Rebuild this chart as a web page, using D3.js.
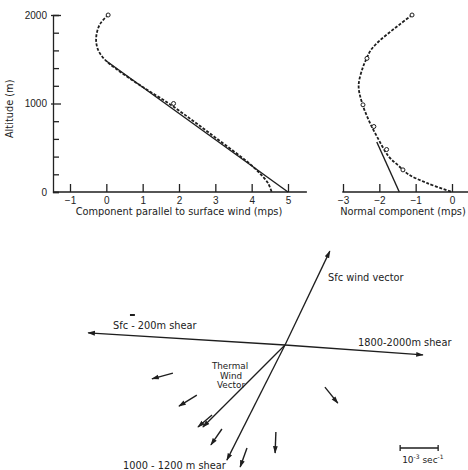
<!DOCTYPE html>
<html>
<head>
<meta charset="utf-8">
<script src="https://cdn.jsdelivr.net/npm/d3@7"></script>
<style>
  body { margin: 0; background: #fff; }
  svg { display: block; font-family: 'DejaVu Sans', sans-serif; }
  .axis text { font-size: 10px; fill: #222; }
  .axis line, .axis path { stroke: #222; stroke-width: 1.3; }
  .lbl { font-size: 9.8px; fill: #222; }
</style>
</head>
<body>
<div id="chart"></div>
<script>
// altitude levels (m) used by both profiles
const altitudes = [2000, 1900, 1800, 1700, 1600, 1500, 1400, 1200, 1000, 800, 600, 400, 300, 200, 100, 0];
// component parallel to surface wind (mps), smoothed profile
const parallelCurve = [0.05, -0.17, -0.26, -0.28, -0.22, -0.05, 0.24, 0.95, 1.72, 2.4, 3.05, 3.7, 4.0, 4.25, 4.45, 4.55];
// normal component (mps), smoothed profile
const normalCurve = [-1.1, -1.42, -1.73, -2.02, -2.24, -2.36, -2.46, -2.57, -2.47, -2.28, -2.03, -1.74, -1.48, -1.2, -0.68, 0];
// straight (theoretical) lines [value, altitude]
const parallelLine = [[0.0, 1480], [5.0, 0]];
const normalLine = [[-1.45, 0], [-2.07, 565]];
// observed points [value, altitude]
const parallelObs = [[0.05, 2000], [1.85, 1000]];
const normalObs = [[-1.1, 2000], [-2.34, 1510], [-2.45, 985], [-2.15, 740], [-1.8, 480], [-1.35, 250]];
// tick labels
const parallelTicks = [-1, 0, 1, 2, 3, 4, 5];
const normalTicks = [-3, -2, -1, 0];
const altTicks = [0, 200, 400, 600, 800, 1000, 1200, 1400, 1600, 1800, 2000];

// hodograph vectors, units of 10^-3 sec^-1 (east, north) from origin
const labelledVectors = [
  { name: 'Sfc wind vector', x: 1.18, y: 2.47 },
  { name: 'Sfc - 200m shear', x: -5.18, y: 0.32 },
  { name: '1800-2000m shear', x: 3.63, y: -0.26 },
  { name: 'Thermal Wind Vector', x: -2.16, y: -2.16 },
  { name: '1000 - 1200 m shear', x: -1.53, y: -3.03 }
];
// other layer shears [tailX, tailY, headX, headY]
const layerShears = [
  [-2.95, -0.74, -3.5, -0.89],
  [-2.32, -1.32, -2.79, -1.61],
  [-1.92, -1.84, -2.29, -2.16],
  [-1.66, -2.21, -1.95, -2.63],
  [-1.0, -2.71, -1.18, -3.21],
  [-0.24, -2.29, -0.26, -2.84],
  [1.05, -1.11, 1.39, -1.53]
];
const scaleBar = [3.03, 4.03, -2.71];

const width = 468, height = 470;
const ink = '#1e1e1e';

const svg = d3.select('#chart').append('svg')
  .attr('width', width)
  .attr('height', height);
svg.append('rect').attr('width', width).attr('height', height).attr('fill', '#fff');

svg.append('defs').append('marker')
  .attr('id', 'head')
  .attr('markerUnits', 'userSpaceOnUse')
  .attr('viewBox', '0 -4 10 8')
  .attr('refX', 9).attr('refY', 0)
  .attr('markerWidth', 8).attr('markerHeight', 6)
  .attr('orient', 'auto')
  .append('path')
  .attr('d', 'M0,-3.2L10,0L0,3.2Z')
  .attr('fill', ink);

// ---------- altitude profiles ----------
const yAlt = d3.scaleLinear().domain([0, 2000]).range([192, 15]);
const xPar = d3.scaleLinear().domain([-1, 5]).range([70, 288]);
const xNor = d3.scaleLinear().domain([-3, 0]).range([343, 452]);

function drawProfile(x, curve, line, obs, ticks, extent, title, titleX) {
  const g = svg.append('g');

  const xAxis = d3.axisBottom(x)
    .tickValues(ticks)
    .tickSize(-8)
    .tickPadding(5)
    .tickFormat(d3.format('d'));
  g.append('g')
    .attr('class', 'axis')
    .attr('transform', `translate(0,${yAlt(0)})`)
    .call(xAxis)
    .call(a => a.select('.domain').remove());
  g.append('line')
    .attr('x1', x(extent[0])).attr('x2', x(extent[1]))
    .attr('y1', yAlt(0)).attr('y2', yAlt(0))
    .attr('stroke', ink).attr('stroke-width', 1.5);

  g.append('text')
    .attr('class', 'lbl')
    .attr('x', titleX)
    .attr('y', 215)
    .attr('text-anchor', 'middle')
    .text(title);

  const pts = altitudes.map((a, i) => [curve[i], a]);
  g.append('path')
    .datum(pts)
    .attr('fill', 'none')
    .attr('stroke', ink)
    .attr('stroke-width', 1.8)
    .attr('stroke-dasharray', '3,1.6')
    .attr('d', d3.line().x(d => x(d[0])).y(d => yAlt(d[1])).curve(d3.curveCatmullRom));

  g.append('path')
    .datum(line)
    .attr('fill', 'none')
    .attr('stroke', ink)
    .attr('stroke-width', 1.4)
    .attr('d', d3.line().x(d => x(d[0])).y(d => yAlt(d[1])));

  g.selectAll('circle')
    .data(obs)
    .join('circle')
    .attr('cx', d => x(d[0]))
    .attr('cy', d => yAlt(d[1]))
    .attr('r', 2)
    .attr('fill', '#fff')
    .attr('stroke', ink)
    .attr('stroke-width', 1);
  return g;
}

drawProfile(xPar, parallelCurve, parallelLine, parallelObs, parallelTicks, [-1.47, 5.52],
  'Component parallel to surface wind   (mps)', 179);
drawProfile(xNor, normalCurve, normalLine, normalObs, normalTicks, [-3.02, 0.5],
  'Normal component (mps)', 403);

// altitude axis
const yAxis = d3.axisLeft(yAlt)
  .tickValues(altTicks)
  .tickSize(-6)
  .tickPadding(6)
  .tickFormat(d => d % 1000 === 0 ? d : '');
svg.append('g')
  .attr('class', 'axis')
  .attr('transform', 'translate(53,0)')
  .call(yAxis)
  .call(a => a.select('.domain').attr('stroke-width', 1.5))
  .call(a => a.selectAll('.tick').filter(d => d % 1000 === 0 && d > 0)
    .select('line').attr('x1', -2).attr('x2', 8));

svg.append('text')
  .attr('class', 'lbl')
  .attr('transform', `translate(13,${yAlt(940)}) rotate(-90)`)
  .attr('text-anchor', 'middle')
  .text('Altitude  (m)');

// ---------- hodograph ----------
const hx = d3.scaleLinear().domain([-5, 5]).range([95, 475]);
const hy = d3.scaleLinear().domain([-5, 5]).range([535, 155]);

const hodo = svg.append('g');
hodo.selectAll('line.vec')
  .data(labelledVectors)
  .join('line')
  .attr('class', 'vec')
  .attr('x1', hx(0)).attr('y1', hy(0))
  .attr('x2', d => hx(d.x)).attr('y2', d => hy(d.y))
  .attr('stroke', ink)
  .attr('stroke-width', 1.3)
  .attr('marker-end', 'url(#head)');

hodo.selectAll('line.shear')
  .data(layerShears)
  .join('line')
  .attr('class', 'shear')
  .attr('x1', d => hx(d[0])).attr('y1', d => hy(d[1]))
  .attr('x2', d => hx(d[2])).attr('y2', d => hy(d[3]))
  .attr('stroke', ink)
  .attr('stroke-width', 1.4)
  .attr('marker-end', 'url(#head)');

// small stray mark above the left shear
hodo.append('line')
  .attr('x1', hx(-4.08)).attr('x2', hx(-3.95))
  .attr('y1', hy(0.79)).attr('y2', hy(0.79))
  .attr('stroke', ink).attr('stroke-width', 2);

const labels = [
  { text: 'Sfc wind vector', x: 328, y: 281, anchor: 'start', size: 9.8 },
  { text: 'Sfc - 200m  shear', x: 113, y: 329, anchor: 'start', size: 9.8 },
  { text: '1800-2000m  shear', x: 358, y: 346, anchor: 'start', size: 9.8 },
  { text: 'Thermal', x: 230, y: 369, anchor: 'middle', size: 8.8 },
  { text: 'Wind', x: 231, y: 378.5, anchor: 'middle', size: 8.8 },
  { text: 'Vector', x: 231, y: 388, anchor: 'middle', size: 8.8 },
  { text: '1000 - 1200 m  shear', x: 123, y: 469, anchor: 'start', size: 9.8 }
];
hodo.selectAll('text.lbl')
  .data(labels)
  .join('text')
  .attr('class', 'lbl')
  .attr('x', d => d.x).attr('y', d => d.y)
  .attr('text-anchor', d => d.anchor)
  .style('font-size', d => d.size + 'px')
  .text(d => d.text);

// scale bar
const bar = hodo.append('g').attr('stroke', ink).attr('stroke-width', 1.3);
bar.append('line')
  .attr('x1', hx(scaleBar[0])).attr('x2', hx(scaleBar[1]))
  .attr('y1', hy(scaleBar[2])).attr('y2', hy(scaleBar[2]));
[scaleBar[0], scaleBar[1]].forEach(v => {
  bar.append('line')
    .attr('x1', hx(v)).attr('x2', hx(v))
    .attr('y1', hy(scaleBar[2]) - 3).attr('y2', hy(scaleBar[2]) + 3);
});
const unit = hodo.append('text')
  .attr('class', 'lbl')
  .style('font-size', '9px')
  .attr('x', hx(scaleBar[0]) + 2)
  .attr('y', hy(scaleBar[2]) + 15);
unit.append('tspan').text('10');
unit.append('tspan').attr('dy', -4).attr('font-size', 6).text('-3');
unit.append('tspan').attr('dy', 4).text(' sec');
unit.append('tspan').attr('dy', -4).attr('font-size', 6).text('-1');
</script>
</body>
</html>
